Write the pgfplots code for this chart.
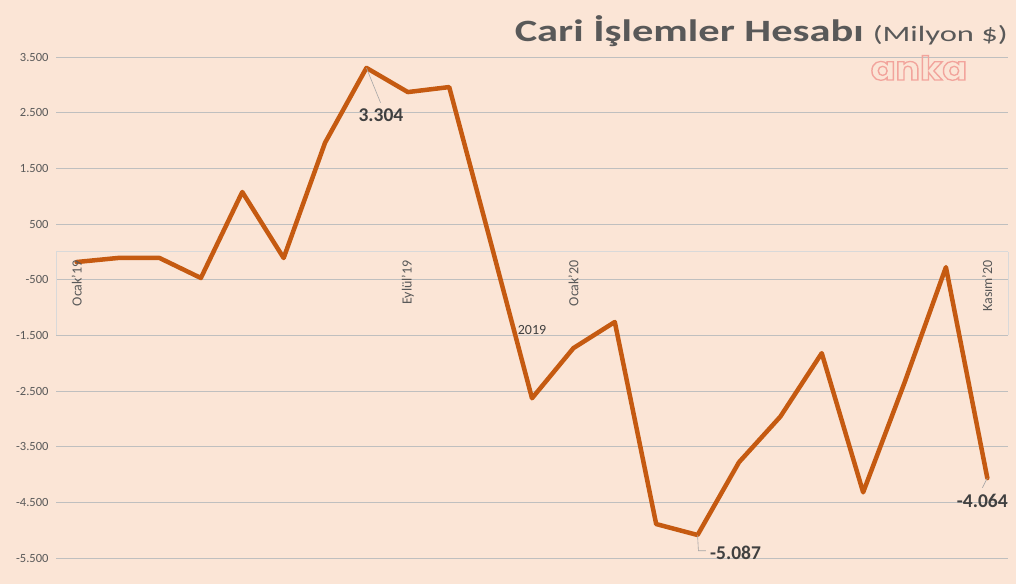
\documentclass[border=0pt]{standalone}
\usepackage{pgfplots}
\pgfplotsset{compat=1.18}
\usepackage{fontspec}
\setmainfont{Carlito}
\newfontfamily\ankafont{Poppins}
\definecolor{bg}{HTML}{FBE5D6}
\definecolor{grid}{HTML}{D9D9D9}
\definecolor{linec}{HTML}{C55A11}
\definecolor{txt}{HTML}{595959}
\definecolor{lbl}{HTML}{404040}
\definecolor{anka}{HTML}{F2A49C}
\begin{document}
\begin{tikzpicture}[x=1pt,y=1pt]
\fill[bg] (0,0) rectangle (1016,584);
\useasboundingbox (0,0) rectangle (1016,584);
\begin{axis}[
  at={(56pt,26pt)}, anchor=south west,
  scale only axis, width=952pt, height=501pt,
  xmin=-0.5, xmax=22.5, ymin=-5500, ymax=3500,
  axis line style={draw=none},
  major tick length=0pt,
  xtick=\empty,
  ytick={-5500,-4500,-3500,-2500,-1500,-500,500,1500,2500,3500},
  yticklabels={-5.500,-4.500,-3.500,-2.500,-1.500,-500,500,1.500,2.500,3.500},
  yticklabel style={font=\fontsize{12.5}{14}\selectfont, text=txt, xshift=-4pt},
  ymajorgrids, grid style={grid, line width=0.9pt},
  clip=false,
]
\draw[grid, line width=0.9pt] (axis cs:-0.5,0) -- (axis cs:22.5,0);
\draw[grid, line width=0.9pt] (axis cs:-0.5,0) -- (axis cs:-0.5,-1500);
\draw[grid, line width=0.9pt] (axis cs:22.5,0) -- (axis cs:22.5,-1500);
\addplot[linec, line width=4.5pt, line join=round, line cap=round, mark=none] coordinates {
(0,-183) (1,-110) (2,-110) (3,-470) (4,1075) (5,-111) (6,1960) (7,3304)
(8,2870) (9,2960) (10,176) (11,-2630) (12,-1730) (13,-1260) (14,-4890)
(15,-5087) (16,-3780) (17,-2960) (18,-1820) (19,-4320) (20,-2350)
(21,-275) (22,-4064)
};
\node[rotate=90, anchor=east, text=txt, font=\fontsize{14}{16}\selectfont, inner sep=0pt] at (axis cs:0,-150) {Ocak'19};
\node[rotate=90, anchor=east, text=txt, font=\fontsize{14}{16}\selectfont, inner sep=0pt] at (axis cs:8,-150) {Eylül'19};
\node[rotate=90, anchor=east, text=txt, font=\fontsize{14}{16}\selectfont, inner sep=0pt] at (axis cs:12,-150) {Ocak'20};
\node[rotate=90, anchor=east, text=txt, font=\fontsize{14}{16}\selectfont, inner sep=0pt] at (axis cs:22,-150) {Kasım'20};
\node[text=lbl, font=\fontsize{14}{16}\selectfont] at (axis cs:11,-1405) {2019};
% leaders
\draw[gray!70, line width=0.6pt] (axis cs:7,3304) -- (axis cs:7.34,2680);
\draw[gray!70, line width=0.6pt] (axis cs:15,-5087) -- (axis cs:15.02,-5370) -- (axis cs:15.2,-5370);
\draw[gray!70, line width=0.6pt] (axis cs:22,-4064) -- (axis cs:21.88,-4240);
\node[text=lbl, font=\fontsize{19.5}{22}\selectfont\bfseries] at (axis cs:7.35,2457) {3.304};
\node[text=lbl, font=\fontsize{19.5}{22}\selectfont\bfseries, anchor=west, inner sep=0pt] at (axis cs:15.3,-5400) {-5.087};
\node[text=lbl, font=\fontsize{19.5}{22}\selectfont\bfseries] at (axis cs:21.88,-4470) {-4.064};
\end{axis}
\node[anchor=base east, text=txt, inner sep=0pt] at (1008,542) {\scalebox{1.37}[1]{\fontsize{31}{36}\selectfont\bfseries Cari İşlemler Hesabı}\hspace{9pt}\scalebox{1.48}[1]{\fontsize{22}{26}\selectfont (Milyon \$)}};
\node[anchor=center, inner sep=0pt, text=anka] at (919,516) {\scalebox{1.1}[1]{\fontsize{33}{36}\selectfont\ankafont\bfseries\special{pdf:literal direct 1 Tr 1.3 w}anka\special{pdf:literal direct 0 Tr}}};
\end{tikzpicture}
\end{document}
